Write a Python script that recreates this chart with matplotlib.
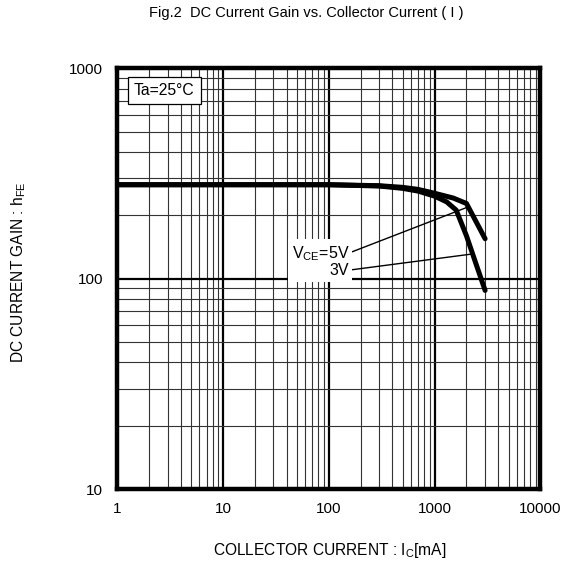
import matplotlib
matplotlib.use("Agg")
import matplotlib.pyplot as plt
from matplotlib.ticker import LogLocator, NullFormatter, FixedLocator, FixedFormatter

plt.rcParams['font.family'] = ['Liberation Sans', 'DejaVu Sans']
plt.rcParams['mathtext.fontset'] = 'custom'
plt.rcParams['mathtext.rm'] = 'Liberation Sans'
plt.rcParams['mathtext.it'] = 'Liberation Sans'

# Data
ic_5v = [1, 10, 100, 300, 500, 700, 1000, 1500, 2000, 3000]
hfe_5v = [280, 280, 280, 277, 272, 266, 255, 242, 228, 155]
ic_3v = [1, 10, 100, 300, 500, 700, 1000, 1300, 1600, 2000, 2500, 3000]
hfe_3v = [280, 280, 280, 276, 269, 261, 247, 232, 212, 160, 115, 88]

x_ticks = [1, 10, 100, 1000, 10000]
x_tick_labels = ["1", "10", "100", "1000", "10000"]
y_ticks = [10, 100, 1000]
y_tick_labels = ["10", "100", "1000"]

fig = plt.figure(figsize=(5.71, 5.65), dpi=100)
ax = fig.add_axes([0.205, 0.1345, 0.7415, 0.7443])
ax.set_xscale('log')
ax.set_yscale('log')
ax.set_xlim(1, 10000)
ax.set_ylim(10, 1000)

ax.xaxis.set_major_locator(FixedLocator(x_ticks))
ax.xaxis.set_major_formatter(FixedFormatter(x_tick_labels))
ax.yaxis.set_major_locator(FixedLocator(y_ticks))
ax.yaxis.set_major_formatter(FixedFormatter(y_tick_labels))
ax.xaxis.set_minor_locator(LogLocator(base=10, subs=range(2, 10), numticks=20))
ax.yaxis.set_minor_locator(LogLocator(base=10, subs=range(2, 10), numticks=20))
ax.xaxis.set_minor_formatter(NullFormatter())
ax.yaxis.set_minor_formatter(NullFormatter())

ax.grid(which='major', color='black', linewidth=1.6, zorder=1)
ax.grid(which='minor', color='#333333', linewidth=0.8, zorder=1)
ax.set_axisbelow(True)
ax.tick_params(which='both', length=0, labelsize=11)
ax.tick_params(axis='x', pad=9)
ax.tick_params(axis='y', pad=10)
for s in ax.spines.values():
    s.set_linewidth(3.2)
    s.set_zorder(6)

ax.plot(ic_5v, hfe_5v, color='black', lw=3.6, solid_capstyle='round',
        solid_joinstyle='round', zorder=4)
ax.plot(ic_3v, hfe_3v, color='black', lw=3.6, solid_capstyle='round',
        solid_joinstyle='round', zorder=4)

# leader lines
ax.annotate('', xy=(2000, 218), xytext=(158, 133), zorder=2,
            arrowprops=dict(arrowstyle='-', color='black', lw=1.0,
                            shrinkA=0, shrinkB=0))
ax.annotate('', xy=(2230, 131), xytext=(158, 110), zorder=2,
            arrowprops=dict(arrowstyle='-', color='black', lw=1.0,
                            shrinkA=0, shrinkB=0))
ax.text(156, 121, r'$\mathregular{V_{CE}}$=5V' + '\n3V', ha='right', va='center',
        multialignment='right', fontsize=11.5, linespacing=1.05, zorder=3,
        bbox=dict(boxstyle='square,pad=0.2', fc='white', ec='none'))

ax.text(0.040, 0.9655, 'Ta=25°C', transform=ax.transAxes, ha='left', va='top',
        fontsize=11.3, zorder=5,
        bbox=dict(boxstyle='square,pad=0.4', fc='white', ec='black', lw=0.9))

fig.text(0.536, 0.977, 'Fig.2  DC Current Gain vs. Collector Current ( I )',
         ha='center', va='center', fontsize=10.5)
fig.text(0.577, 0.026, r'COLLECTOR CURRENT : $\mathregular{I_C}$[mA]',
         ha='center', va='center', fontsize=11.2)
fig.text(0.033, 0.519, r'DC CURRENT GAIN : $\mathregular{h_{FE}}$',
         ha='center', va='center', rotation=90, fontsize=11.2)

fig.savefig('out.png', dpi=100)
